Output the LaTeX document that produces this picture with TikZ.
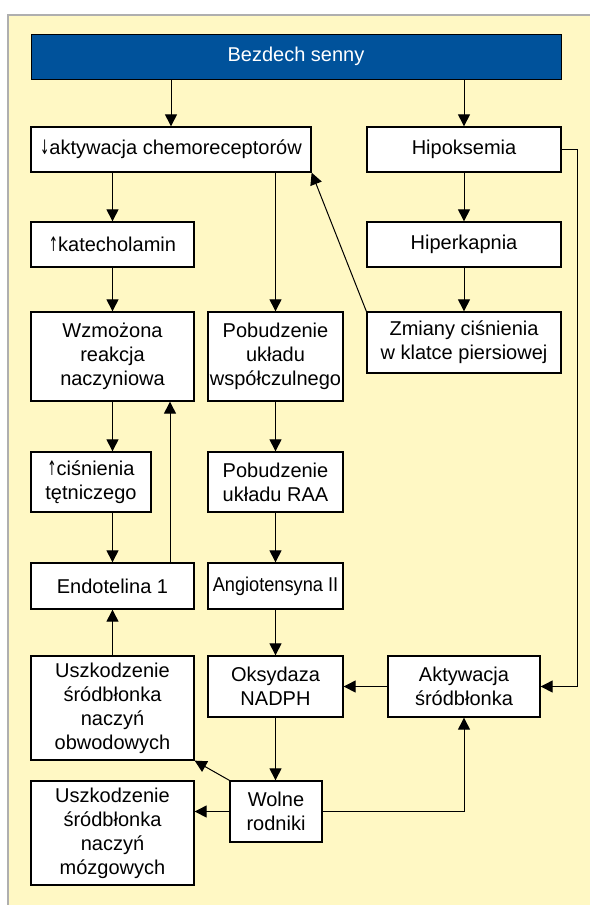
\documentclass[tikz,border=0pt]{standalone}
\usepackage{fontspec}
\setmainfont{Liberation Sans}
\newfontfamily\arrfont{DejaVu Sans}
\usetikzlibrary{arrows.meta,calc}
\definecolor{yel}{RGB}{255,248,196}
\definecolor{hdr}{RGB}{0,82,155}
\definecolor{frm}{RGB}{175,175,175}
\newcommand{\dnarr}{\scalebox{0.55}[1]{\arrfont ↓}}
\newcommand{\uparr}{\scalebox{0.55}[1]{\arrfont ↑}}
\begin{document}
\begin{tikzpicture}[x=1pt,y=-1pt,
  box/.style={draw=black, line width=1.3pt, fill=white, inner sep=0pt, align=center,
              font=\fontsize{20}{24}\selectfont},
  hdrbox/.style={box, fill=hdr, text=white, line width=1pt},
  conn/.style={line width=1pt, -{Triangle[length=12pt,width=12pt]}}]
\useasboundingbox (0,0) rectangle (590,905);
\fill[yel] (8,15) rectangle (590,905);
\draw[frm, line width=1.2pt] (8,905) -- (8,15) -- (590,15);

\node[hdrbox, minimum width=530pt, minimum height=45pt] (bez) at (296,56.5) {Bezdech senny};
\node[box, minimum width=280pt, minimum height=45pt] (chemo) at (171,149.5) {\dnarr aktywacja chemoreceptorów};
\node[box, minimum width=194pt, minimum height=45pt] (hipok) at (464,149.5) {Hipoksemia};
\node[box, minimum width=163pt, minimum height=45pt] (kat) at (112.5,244.5) {\uparr katecholamin};
\node[box, minimum width=194pt, minimum height=45pt] (hiperk) at (464,244.5) {Hiperkapnia};
\node[box, minimum width=163pt, minimum height=89pt] (wzm) at (112.5,356.5) {Wzmożona\\reakcja\\naczyniowa};
\node[box, minimum width=135pt, minimum height=89pt] (pobw) at (275.5,356.5) {Pobudzenie\\układu\\współczulnego};
\node[box, minimum width=194pt, minimum height=61pt] (zmiany) at (464,342.5) {Zmiany ciśnienia\\w klatce piersiowej};
\node[box, minimum width=120pt, minimum height=60pt] (cisn) at (91,482) {\uparr ciśnienia\\tętniczego};
\node[box, minimum width=135pt, minimum height=60pt] (raa) at (275.5,482) {Pobudzenie\\układu RAA};
\node[box, minimum width=163pt, minimum height=46pt] (endo) at (112.5,586) {Endotelina 1};
\node[box, minimum width=135pt, minimum height=46pt] (angio) at (275.5,586) {\scalebox{0.91}[1]{Angiotensyna II}};
\node[box, minimum width=163pt, minimum height=104pt] (uszo) at (112.5,708) {Uszkodzenie\\śródbłonka\\naczyń\\obwodowych};
\node[box, minimum width=135pt, minimum height=61pt] (oks) at (275.5,686.5) {Oksydaza\\NADPH};
\node[box, minimum width=152pt, minimum height=61pt] (akt) at (464,686.5) {Aktywacja\\śródbłonka};
\node[box, minimum width=92pt, minimum height=61pt] (wolne) at (276,811.5) {Wolne\\rodniki};
\node[box, minimum width=163pt, minimum height=104pt] (uszm) at (112.5,833) {Uszkodzenie\\śródbłonka\\naczyń\\mózgowych};

\coordinate (rt) at (577,0);
\coordinate (upx) at (170,0);

\draw[conn] (bez.south -| chemo.north) -- (chemo.north);
\draw[conn] (bez.south -| hipok.north) -- (hipok.north);
\draw[conn] (chemo.south -| kat.north) -- (kat.north);
\draw[conn] (chemo.south -| pobw.north) -- (pobw.north);
\draw[conn] (hipok.south) -- (hiperk.north);
\draw[conn] (hiperk.south) -- (zmiany.north);
\draw[conn] (zmiany.north west) -- (chemo.south east);
\draw[conn] (hipok.east) -- (hipok.east -| rt) -- (akt.east -| rt) -- (akt.east);
\draw[conn] (kat.south) -- (wzm.north);
\draw[conn] (wzm.south) -- (wzm.south |- cisn.north);
\draw[conn] (endo.north |- cisn.south) -- (endo.north);
\draw[conn] (endo.north -| upx) -- (wzm.south -| upx);
\draw[conn] (pobw.south) -- (raa.north);
\draw[conn] (raa.south) -- (angio.north);
\draw[conn] (angio.south) -- (oks.north);
\draw[conn] (uszo.north) -- (endo.south);
\draw[conn] (akt.west) -- (oks.east);
\draw[conn] (oks.south) -- (oks.south |- wolne.north);
\draw[conn] (wolne.north west) -- (uszo.south east);
\draw[conn] (wolne.west) -- (wolne.west -| uszm.east);
\draw[conn] (wolne.east) -- (wolne.east -| akt.south) -- (akt.south);
\end{tikzpicture}
\end{document}
